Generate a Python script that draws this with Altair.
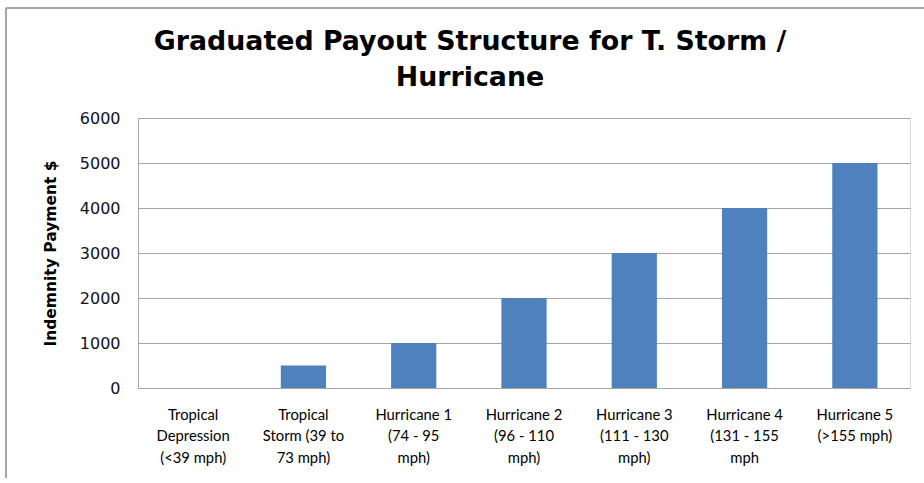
import altair as alt
import pandas as pd

categories = [
    "Tropical|Depression|(<39 mph)",
    "Tropical|Storm (39 to|73 mph)",
    "Hurricane 1|(74 - 95|mph)",
    "Hurricane 2|(96 - 110|mph)",
    "Hurricane 3|(111 - 130|mph)",
    "Hurricane 4|(131 - 155|mph",
    "Hurricane 5|(>155 mph)",
]
payments = [0, 500, 1000, 2000, 3000, 4000, 5000]
y_ticks = [0, 1000, 2000, 3000, 4000, 5000, 6000]

df = pd.DataFrame({"category": categories, "payment": payments})

LABEL_FONT = "Lato"
WIDE_FONT = "DejaVu Sans"
FRAME = "#a6a6a6"

bars = (
    alt.Chart(df)
    .mark_bar(color="#4F81BD")
    .encode(
        x=alt.X(
            "category:N",
            sort=categories,
            title=None,
            scale=alt.Scale(paddingInner=0.59, paddingOuter=0.295),
            axis=alt.Axis(
                labelExpr="split(datum.label, '|')",
                labelAngle=0,
                labelFontSize=14.8,
                labelLineHeight=21.5,
                labelPadding=19,
                labelBaseline="top",
                labelColor="#000000",
                labelFont=LABEL_FONT,
                ticks=False,
                domainColor=FRAME,
                grid=False,
            ),
        ),
        y=alt.Y(
            "payment:Q",
            title="Indemnity Payment $",
            scale=alt.Scale(domain=[0, 6000]),
            axis=alt.Axis(
                values=y_ticks,
                format="d",
                labelFontSize=16,
                labelColor="#111122",
                labelFont=WIDE_FONT,
                labelPadding=18,
                ticks=False,
                domainColor=FRAME,
                gridColor=FRAME,
                titleFont=WIDE_FONT,
                titleFontSize=15.5,
                titleFontWeight="bold",
                titleColor="#000000",
                titlePadding=21,
            ),
        ),
    )
)

frame_df = pd.DataFrame({"k": [0]})
left_frame = alt.Chart(frame_df).mark_rule(color=FRAME, strokeWidth=2).encode(
    x=alt.value(-132), y=alt.value(-110), y2=alt.value(360)
)
top_frame = alt.Chart(frame_df).mark_rule(color=FRAME, strokeWidth=2).encode(
    x=alt.value(-132), x2=alt.value(790), y=alt.value(-110)
)

chart = (
    alt.layer(bars, left_frame, top_frame)
    .properties(
        width=772,
        height=270,
        title=alt.TitleParams(
            text=["Graduated Payout Structure for T. Storm /", "Hurricane"],
            font=WIDE_FONT,
            fontSize=26.8,
            fontWeight="bold",
            color="#000000",
            lineHeight=36,
            anchor="middle",
            dx=-54,
            offset=-85,
        ),
        autosize=alt.AutoSizeParams(type="none"),
        padding={"left": 138, "top": 118, "right": 14, "bottom": 95},
    )
    .configure_view(stroke=None)
    .configure(background="white")
)

chart.save("out.html", embed_options={"renderer": "svg", "actions": False})
